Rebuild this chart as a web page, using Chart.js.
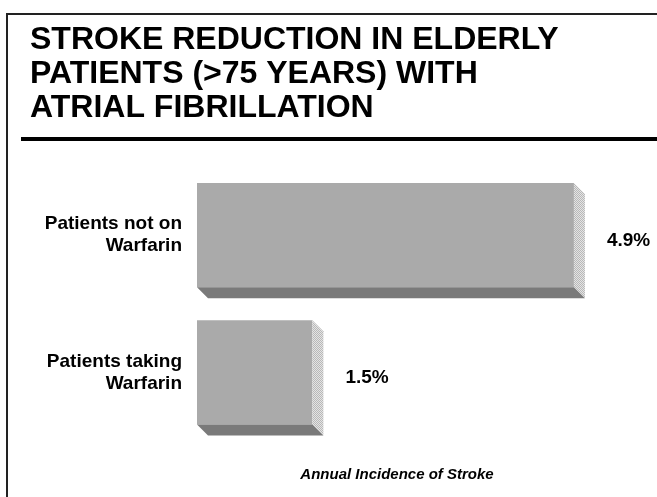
<!DOCTYPE html>
<html>
  <head>
    <title>Stroke reduction in elderly patients</title>
    <script src="https://cdn.jsdelivr.net/npm/chart.js@4"></script>
    <style>
      html, body { margin: 0; padding: 0; background: #fff; }
      #wrap { width: 657px; height: 497px; }
    </style>
  </head>
  <body>
    <div id="wrap"><canvas id="chart" width="657" height="497"></canvas></div>
    <script>
      const titleLines = [
        "STROKE REDUCTION IN ELDERLY",
        "PATIENTS (>75 YEARS) WITH",
        "ATRIAL FIBRILLATION",
      ]
      const categories = [
        ["Patients not on", "Warfarin"],
        ["Patients taking", "Warfarin"],
      ]
      const incidence = [4.9, 1.5]
      const axisTitle = "Annual Incidence of Stroke"

      const FONT = "'Liberation Sans', Arial, Helvetica, sans-serif"
      const DEPTH = 11

      // light dithered fill for the side faces
      function sidePattern(ctx) {
        const c = document.createElement("canvas")
        c.width = 2
        c.height = 2
        const p = c.getContext("2d")
        p.fillStyle = "#e4e4e4"
        p.fillRect(0, 0, 2, 2)
        p.fillStyle = "#b8b8b8"
        p.fillRect(0, 0, 1, 1)
        p.fillRect(1, 1, 1, 1)
        return ctx.createPattern(c, "repeat")
      }

      // frame + rule under the title
      const decoration = {
        id: "decoration",
        beforeDraw(chart) {
          const ctx = chart.ctx
          ctx.save()
          ctx.strokeStyle = "#222"
          ctx.lineWidth = 2
          ctx.beginPath()
          ctx.moveTo(7, chart.height)
          ctx.lineTo(7, 14)
          ctx.lineTo(chart.width, 14)
          ctx.stroke()
          ctx.fillStyle = "#000"
          ctx.fillRect(21, 137, chart.width - 21, 4)
          ctx.restore()
        },
      }

      // fake 3D sides and value labels
      const bars3d = {
        id: "bars3d",
        afterDatasetsDraw(chart) {
          const ctx = chart.ctx
          const meta = chart.getDatasetMeta(0)
          ctx.save()
          meta.data.forEach((bar, i) => {
            const { x, y, base, height } = bar.getProps(["x", "y", "base", "height"], true)
            const top = y - height / 2
            const bottom = y + height / 2
            // side
            ctx.fillStyle = sidePattern(ctx)
            ctx.beginPath()
            ctx.moveTo(x, top)
            ctx.lineTo(x + DEPTH, top + DEPTH)
            ctx.lineTo(x + DEPTH, bottom + DEPTH)
            ctx.lineTo(x, bottom)
            ctx.closePath()
            ctx.fill()
            // bottom
            ctx.fillStyle = "#7a7a7a"
            ctx.beginPath()
            ctx.moveTo(base, bottom)
            ctx.lineTo(x, bottom)
            ctx.lineTo(x + DEPTH, bottom + DEPTH)
            ctx.lineTo(base + DEPTH, bottom + DEPTH)
            ctx.closePath()
            ctx.fill()
            // value
            ctx.fillStyle = "#000"
            ctx.font = "bold 19px " + FONT
            ctx.textAlign = "left"
            ctx.textBaseline = "middle"
            ctx.fillText(incidence[i].toFixed(1) + "%", x + 33, y + DEPTH / 2)
          })
          ctx.restore()
        },
      }

      new Chart(document.getElementById("chart"), {
        type: "bar",
        data: {
          labels: categories,
          datasets: [
            {
              data: incidence,
              backgroundColor: "#aaaaaa",
              borderWidth: 0,
              barPercentage: 0.76,
              categoryPercentage: 1,
            },
          ],
        },
        options: {
          indexAxis: "y",
          responsive: false,
          animation: false,
          layout: { padding: { left: 30, right: 60, top: 0, bottom: 0 } },
          plugins: {
            legend: { display: false },
            tooltip: { enabled: false },
            title: {
              display: true,
              text: titleLines,
              align: "start",
              color: "#000",
              font: { family: FONT, size: 32, weight: "bold", lineHeight: 34 / 32 },
              padding: { top: 23.5, bottom: 41 },
            },
          },
          scales: {
            x: {
              min: 0,
              max: 5.2,
              grid: { display: false, drawTicks: false },
              border: { display: false },
              ticks: { display: false },
              title: {
                display: true,
                text: axisTitle,
                color: "#000",
                font: { family: FONT, size: 15, weight: "bold", style: "italic", lineHeight: 1.2 },
                padding: { top: 24.5, bottom: 13.5 },
              },
            },
            y: {
              grid: { display: false, drawTicks: false },
              border: { display: false },
              ticks: {
                color: "#000",
                padding: 15,
                font: { family: FONT, size: 19, weight: "bold", lineHeight: 22 / 19 },
              },
              afterFit(scale) {
                scale.width = 167
              },
            },
          },
        },
        plugins: [decoration, bars3d],
      })
    </script>
  </body>
</html>
